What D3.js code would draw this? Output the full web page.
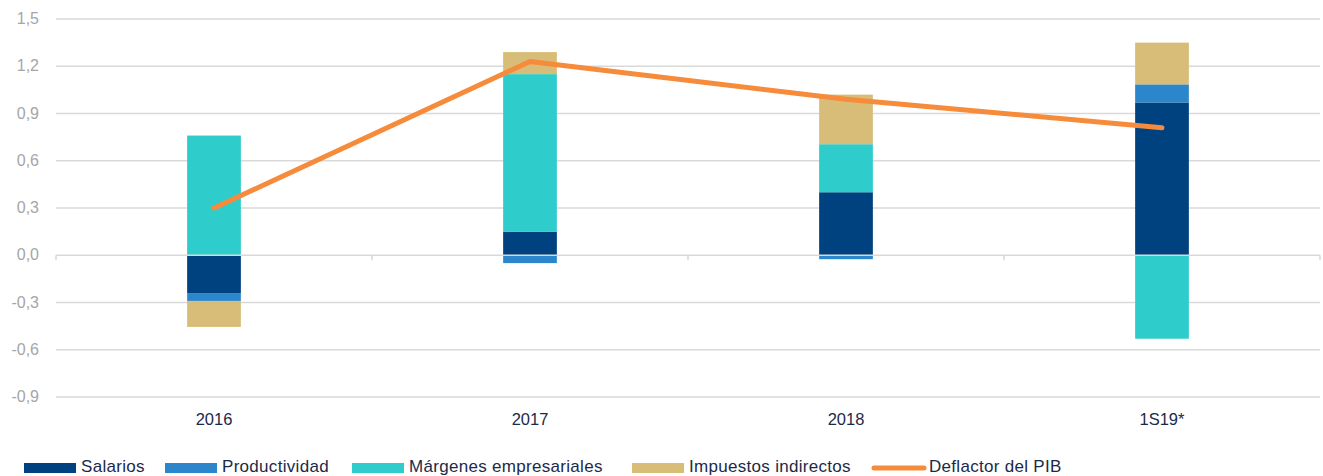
<!DOCTYPE html>
<html>
<head>
<meta charset="utf-8">
<script src="https://cdn.jsdelivr.net/npm/d3@7"></script>
<style>
  body { margin: 0; background: #fff; }
  svg { display: block; font-family: "Liberation Sans", Arial, sans-serif; }
</style>
</head>
<body>
<svg id="chart" width="1323" height="476"></svg>
<script>
// categories and series
const periods = ['2016', '2017', '2018', '1S19*']
const salarios = [-0.24, 0.15, 0.40, 0.97]
const productividad = [-0.05, -0.05, -0.025, 0.115]
const margenes = [0.76, 1.00, 0.305, -0.53]
const impuestos = [-0.165, 0.14, 0.315, 0.265]
const deflactor = [0.30, 1.23, 0.99, 0.81]
const yTicks = [-0.9, -0.6, -0.3, 0, 0.3, 0.6, 0.9, 1.2, 1.5]

const series = [
  { key: 'Salarios', values: salarios, color: '#00427f' },
  { key: 'Productividad', values: productividad, color: '#2b86cb' },
  { key: 'Márgenes empresariales', values: margenes, color: '#2ecdcb' },
  { key: 'Impuestos indirectos', values: impuestos, color: '#d7bd77' }
]
const lineColor = '#f68b3b'

const svg = d3.select('#chart')
const left = 56, right = 1320

const x = d3.scaleBand().domain(periods).range([left, right]).paddingInner(0.83).paddingOuter(0.415)
const xOuter = d3.scaleBand().domain(periods).range([left, right])
const y = d3.scaleLinear().domain([-0.9, 1.5]).range([397, 19])

const fmt = d => d3.format('.1f')(d).replace('.', ',').replace('−', '-')

// gridlines
svg.append('g')
  .selectAll('line')
  .data(yTicks.filter(d => d !== 0))
  .enter().append('line')
    .attr('x1', left).attr('x2', right)
    .attr('y1', d => y(d)).attr('y2', d => y(d))
    .attr('stroke', '#d9d9d9').attr('stroke-width', 1.5)

// y labels
svg.append('g')
  .selectAll('text')
  .data(yTicks)
  .enter().append('text')
    .attr('x', 39).attr('y', d => y(d) + 5)
    .attr('text-anchor', 'end')
    .attr('fill', '#a6a6a6')
    .attr('font-size', 16)
    .text(fmt)

// stacked bars
const rows = periods.map((p, i) => {
  const r = { period: p }
  series.forEach(s => { r[s.key] = s.values[i] })
  return r
})
const stack = d3.stack().keys(series.map(s => s.key)).offset(d3.stackOffsetDiverging)
const stacked = stack(rows)

svg.append('g')
  .selectAll('g')
  .data(stacked)
  .enter().append('g')
    .attr('fill', (d, i) => series[i].color)
  .selectAll('rect')
  .data(d => d)
  .enter().append('rect')
    .attr('x', d => x(d.data.period))
    .attr('width', x.bandwidth())
    .attr('y', d => y(Math.max(d[0], d[1])))
    .attr('height', d => Math.abs(y(d[0]) - y(d[1])))

// zero axis with category ticks
const axis = svg.append('g').attr('stroke', '#d9d9d9').attr('stroke-width', 1.5)
axis.append('line')
  .attr('x1', left).attr('x2', right)
  .attr('y1', y(0)).attr('y2', y(0))
axis.selectAll('line.tick')
  .data(periods.map(p => xOuter(p)).concat([right]))
  .enter().append('line')
    .attr('class', 'tick')
    .attr('x1', d => d).attr('x2', d => d)
    .attr('y1', y(0)).attr('y2', y(0) + 5)

// x labels
svg.append('g')
  .selectAll('text')
  .data(periods)
  .enter().append('text')
    .attr('x', d => x(d) + x.bandwidth() / 2)
    .attr('y', 425)
    .attr('text-anchor', 'middle')
    .attr('fill', '#1b2a4a')
    .attr('font-size', 16.5)
    .text(d => d)

// deflactor line
const line = d3.line()
  .x((d, i) => x(periods[i]) + x.bandwidth() / 2)
  .y(d => y(d))
svg.append('path')
  .datum(deflactor)
  .attr('d', line)
  .attr('fill', 'none')
  .attr('stroke', lineColor)
  .attr('stroke-width', 5)
  .attr('stroke-linecap', 'round')
  .attr('stroke-linejoin', 'round')

// legend
const legendItems = series.map(s => ({ key: s.key, color: s.color, type: 'rect' }))
  .concat([{ key: 'Deflactor del PIB', color: lineColor, type: 'line' }])
const legendX = [24, 165, 352, 632, 872]
const lg = svg.append('g')
legendItems.forEach((it, i) => {
  const g = lg.append('g').attr('transform', `translate(${legendX[i]},467)`)
  if (it.type === 'rect') {
    g.append('rect').attr('x', 0).attr('y', -4).attr('width', 52).attr('height', 10).attr('fill', it.color)
  } else {
    g.append('line').attr('x1', 2).attr('x2', 52).attr('y1', 1).attr('y2', 1)
      .attr('stroke', it.color).attr('stroke-width', 5).attr('stroke-linecap', 'round')
  }
  g.append('text')
    .attr('x', 57).attr('y', 5)
    .attr('fill', '#1b2a4a')
    .attr('font-size', 17)
    .attr('letter-spacing', 0.3)
    .text(it.key)
})
</script>
</body>
</html>
